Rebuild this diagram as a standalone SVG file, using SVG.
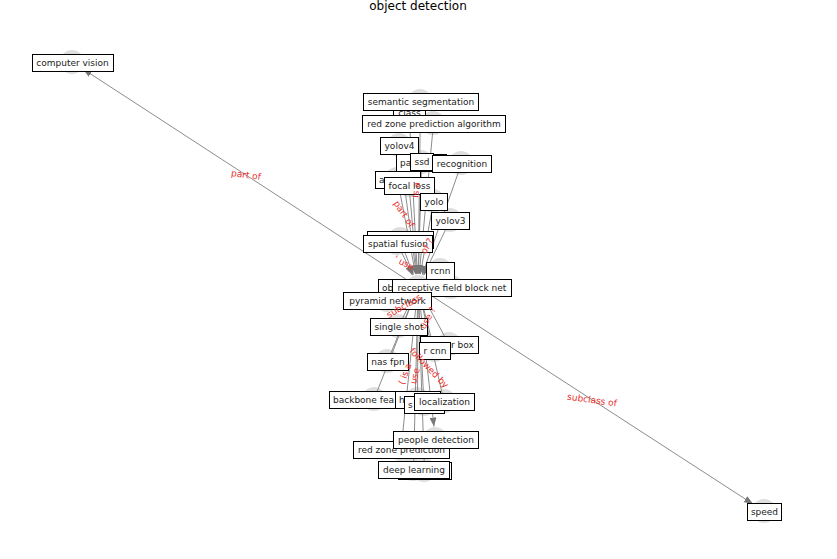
<svg xmlns="http://www.w3.org/2000/svg" width="837" height="559" viewBox="0 0 837 559">
<style>
  .bg{fill:#ffffff}
  .nc{fill:#dedede}
  .nb{fill:#ffffff;stroke:#000000;stroke-width:1}
  .nt{font-family:"DejaVu Sans",sans-serif;font-size:9px;fill:#222222;text-anchor:middle;dominant-baseline:central}
  .ns{font-family:"DejaVu Sans",sans-serif;font-size:9px;fill:#222222;text-anchor:start;dominant-baseline:central}
  .ea{stroke:#8c8c8c;stroke-width:1;fill:none;marker-end:url(#ah)}
  .el{font-family:"DejaVu Sans",sans-serif;font-size:9px;fill:#e8302c;text-anchor:middle;dominant-baseline:central}
  .title{font-family:"DejaVu Sans",sans-serif;font-size:12px;fill:#000000;text-anchor:middle}
</style>
<defs>
  <marker id="ah" markerUnits="userSpaceOnUse" markerWidth="9" markerHeight="7" refX="9" refY="3.5" orient="auto">
    <path d="M0,0 L9,3.5 L0,7 z" fill="#777777"/>
  </marker>
</defs>
<rect class="bg" x="0" y="0" width="837" height="559"/>
<text class="title" x="418" y="10">object detection</text>

<g id="node-markers">
  <circle class="nc" cx="72" cy="62" r="12"/>
  <circle class="nc" cx="764" cy="511" r="12"/>
  <circle class="nc" cx="420" cy="101" r="12"/>
  <circle class="nc" cx="409" cy="110" r="12"/>
  <circle class="nc" cx="433" cy="123" r="12"/>
  <circle class="nc" cx="399" cy="145" r="12"/>
  <circle class="nc" cx="421" cy="162" r="12"/>
  <circle class="nc" cx="461" cy="163" r="12"/>
  <circle class="nc" cx="397" cy="179" r="12"/>
  <circle class="nc" cx="409" cy="185" r="12"/>
  <circle class="nc" cx="433" cy="201" r="12"/>
  <circle class="nc" cx="450" cy="220" r="12"/>
  <circle class="nc" cx="400" cy="239" r="12"/>
  <circle class="nc" cx="397" cy="243" r="12"/>
  <circle class="nc" cx="440" cy="270" r="12"/>
  <circle class="nc" cx="418" cy="287" r="12"/>
  <circle class="nc" cx="451" cy="287" r="12"/>
  <circle class="nc" cx="387" cy="300" r="12"/>
  <circle class="nc" cx="398" cy="326" r="12"/>
  <circle class="nc" cx="449" cy="344" r="12"/>
  <circle class="nc" cx="434" cy="350" r="12"/>
  <circle class="nc" cx="387" cy="361" r="12"/>
  <circle class="nc" cx="374" cy="399" r="12"/>
  <circle class="nc" cx="417" cy="399" r="12"/>
  <circle class="nc" cx="424" cy="404" r="12"/>
  <circle class="nc" cx="444" cy="401" r="12"/>
  <circle class="nc" cx="401" cy="449" r="12"/>
  <circle class="nc" cx="435" cy="439" r="12"/>
  <circle class="nc" cx="424" cy="470" r="12"/>
  <circle class="nc" cx="413" cy="469" r="12"/>
</g>

<g id="connectors">
  <line class="ea" x1="418" y1="287" x2="83" y2="69"/>
  <line class="ea" x1="418" y1="287" x2="753" y2="504"/>
  <line class="ea" x1="420.5" y1="101.5" x2="418.2" y2="274"/>
  <line class="ea" x1="409" y1="110.5" x2="417.3" y2="274"/>
  <line class="ea" x1="433.5" y1="123.5" x2="419.2" y2="274.1"/>
  <line class="ea" x1="399" y1="145.5" x2="416.3" y2="274.1"/>
  <line class="ea" x1="421" y1="162.5" x2="418.3" y2="274"/>
  <line class="ea" x1="421.5" y1="161.5" x2="418.4" y2="274"/>
  <line class="ea" x1="461.5" y1="163.5" x2="422.3" y2="274.7"/>
  <line class="ea" x1="397.5" y1="179.5" x2="415.6" y2="274.2"/>
  <line class="ea" x1="409" y1="185.5" x2="416.8" y2="274.1"/>
  <line class="ea" x1="433.5" y1="201.5" x2="420.3" y2="274.2"/>
  <line class="ea" x1="450" y1="220.5" x2="423.6" y2="275.3"/>
  <line class="ea" x1="400" y1="239.5" x2="413.4" y2="274.8"/>
  <line class="ea" x1="397.5" y1="243.5" x2="412.5" y2="275.2"/>
  <line class="ea" x1="440" y1="270.5" x2="428.4" y2="279.2"/>
  <line class="ea" x1="451.5" y1="287.5" x2="431" y2="287.2"/>
  <line class="ea" x1="387" y1="300.5" x2="406.1" y2="292.2"/>
  <line class="ea" x1="398.5" y1="326.5" x2="412.2" y2="298.7"/>
  <line class="ea" x1="449" y1="344.5" x2="424.2" y2="298.4"/>
  <line class="ea" x1="434.5" y1="350.5" x2="421.3" y2="299.6"/>
  <line class="ea" x1="387.5" y1="361.5" x2="413.1" y2="299"/>
  <line class="ea" x1="374" y1="399.5" x2="413.3" y2="299.1"/>
  <line class="ea" x1="417.5" y1="399.5" x2="418" y2="300"/>
  <line class="ea" x1="424" y1="404.5" x2="418.7" y2="300"/>
  <line class="ea" x1="444" y1="401.5" x2="420.9" y2="299.7"/>
  <line class="ea" x1="418" y1="287" x2="434" y2="426.6"/>
  <line class="ea" x1="401" y1="449.5" x2="416.6" y2="299.9"/>
  <line class="ea" x1="424.5" y1="470.5" x2="418.5" y2="300"/>
  <line class="ea" x1="413.5" y1="469.5" x2="417.7" y2="300"/>
</g>

<g id="n-computer-vision"><rect class="nb" x="32.5" y="54.5" width="81" height="17"/><text class="nt" x="72.5" y="63">computer vision</text></g>
<g id="n-speed"><rect class="nb" x="747.5" y="503.5" width="34" height="17"/><text class="nt" x="764.5" y="512">speed</text></g>
<g id="n-class"><rect class="nb" x="393.5" y="104.5" width="32" height="16"/><text class="nt" x="409.5" y="113">class</text></g>
<g id="n-semantic-segmentation"><rect class="nb" x="363.5" y="93.5" width="115" height="17"/><text class="nt" x="421" y="102">semantic segmentation</text></g>
<g id="n-red-zone-prediction-algorithm"><rect class="nb" x="362.5" y="115.5" width="143" height="17"/><text class="nt" x="434" y="124">red zone prediction algorithm</text></g>
<g id="n-yolov4"><rect class="nb" x="380.5" y="137.5" width="38" height="17"/><text class="nt" x="399.5" y="146">yolov4</text></g>
<g id="n-pa"><rect class="nb" x="396.5" y="154.5" width="50" height="17"/><text class="ns" x="400" y="163">pa</text></g>
<g id="n-ssd"><rect class="nb" x="410.5" y="153.5" width="23" height="17"/><text class="nt" x="422" y="162">ssd</text></g>
<g id="n-recognition"><rect class="nb" x="432.5" y="155.5" width="59" height="17"/><text class="nt" x="462" y="164">recognition</text></g>
<g id="n-a"><rect class="nb" x="375.5" y="171.5" width="45" height="17"/><text class="ns" x="379" y="180">a</text></g>
<g id="n-focal-loss"><rect class="nb" x="384.5" y="177.5" width="50" height="17"/><text class="nt" x="409.5" y="186">focal loss</text></g>
<g id="n-yolo"><rect class="nb" x="420.5" y="193.5" width="27" height="17"/><text class="nt" x="434" y="202">yolo</text></g>
<g id="n-yolov3"><rect class="nb" x="431.5" y="212.5" width="38" height="17"/><text class="nt" x="450.5" y="221">yolov3</text></g>
<g id="n-hidden-1"><rect class="nb" x="367.5" y="231.5" width="66" height="17"/></g>
<g id="n-spatial-fusion"><rect class="nb" x="363.5" y="235.5" width="69" height="17"/><text class="nt" x="398" y="244">spatial fusion</text></g>
<g id="n-rcnn"><rect class="nb" x="426.5" y="262.5" width="28" height="17"/><text class="nt" x="440.5" y="271">rcnn</text></g>
<g id="n-object-detection"><rect class="nb" x="378.5" y="279.5" width="80" height="17"/><text class="ns" x="382" y="288">ob</text></g>
<g id="n-receptive-field-block-net"><rect class="nb" x="392.5" y="279.5" width="119" height="17"/><text class="nt" x="452" y="288">receptive field block net</text></g>
<g id="n-pyramid-network"><rect class="nb" x="343.5" y="292.5" width="88" height="17"/><text class="nt" x="387.5" y="301">pyramid network</text></g>
<g id="n-single-shot"><rect class="nb" x="370.5" y="318.5" width="57" height="17"/><text class="nt" x="399" y="327">single shot</text></g>
<g id="n-anchor-box"><rect class="nb" x="420.5" y="336.5" width="58" height="17"/><text class="ns" x="451" y="345">r box</text></g>
<g id="n-r-cnn"><rect class="nb" x="419.5" y="342.5" width="31" height="17"/><text class="nt" x="435" y="351">r cnn</text></g>
<g id="n-nas-fpn"><rect class="nb" x="367.5" y="353.5" width="41" height="17"/><text class="nt" x="388" y="362">nas fpn</text></g>
<g id="n-backbone-feature"><rect class="nb" x="329.5" y="391.5" width="90" height="17"/><text class="ns" x="333" y="400">backbone fea</text></g>
<g id="n-h"><rect class="nb" x="395.5" y="391.5" width="45" height="17"/><text class="ns" x="399" y="400">h</text></g>
<g id="n-s"><rect class="nb" x="404.5" y="396.5" width="40" height="17"/><text class="ns" x="408" y="405">s</text></g>
<g id="n-localization"><rect class="nb" x="414.5" y="393.5" width="60" height="17"/><text class="nt" x="444.5" y="402">localization</text></g>
<g id="n-red-zone-prediction"><rect class="nb" x="353.5" y="441.5" width="96" height="17"/><text class="nt" x="401.5" y="450">red zone prediction</text></g>
<g id="n-people-detection"><rect class="nb" x="393.5" y="431.5" width="85" height="17"/><text class="nt" x="436" y="440">people detection</text></g>
<g id="n-hidden-2"><rect class="nb" x="398.5" y="462.5" width="53" height="17"/></g>
<g id="n-deep-learning"><rect class="nb" x="378.5" y="461.5" width="71" height="17"/><text class="nt" x="414" y="470">deep learning</text></g>

<g id="edge-labels">
  <text class="el" transform="translate(246,175) rotate(8)">part of</text>
  <text class="el" transform="translate(592,400) rotate(8)">subclass of</text>
  <text class="el" transform="translate(404,214) rotate(56)">part of</text>
  <text class="el" transform="translate(416,190) rotate(-84)">is a</text>
  <text class="el" transform="translate(427,246) rotate(-62)">of ?</text>
  <text class="el" transform="translate(404,263) rotate(28)">' use</text>
  <text class="el" transform="translate(404,306) rotate(-30)">subclass</text>
  <text class="el" transform="translate(428,318) rotate(-62)">use ?</text>
  <text class="el" transform="translate(429,368) rotate(46)">followed by</text>
  <text class="el" transform="translate(415,376) rotate(-76)">use</text>
  <text class="el" transform="translate(405,374) rotate(-70)">( is a</text>
</g>
</svg>
